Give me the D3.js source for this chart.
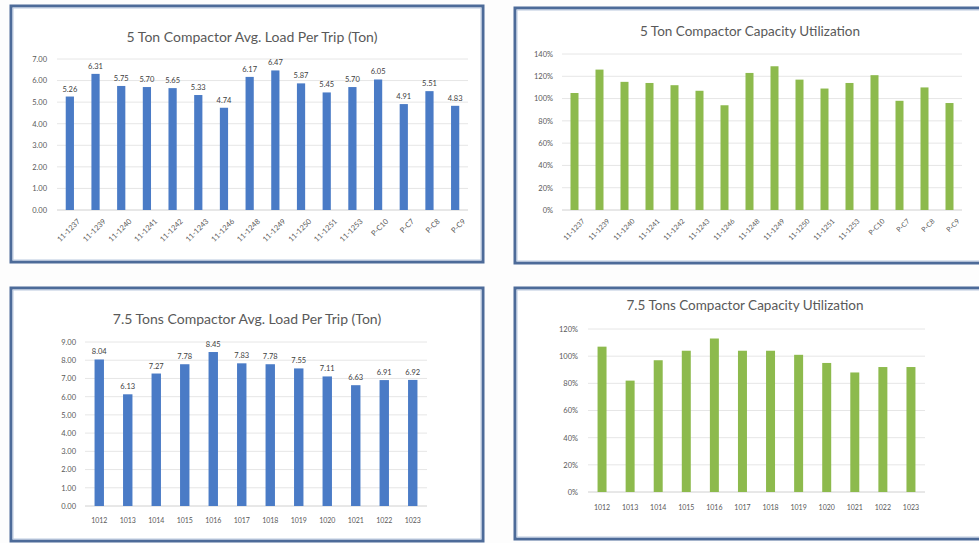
<!DOCTYPE html>
<html>
<head>
<meta charset="utf-8">
<script src="https://cdn.jsdelivr.net/npm/d3@7"></script>
<style>
html,body{margin:0;padding:0;background:#fdfdfd;overflow:hidden;}
svg{display:block;font-family:Lato,"Open Sans",sans-serif;}
</style>
</head>
<body>
<svg id="c" width="979" height="543"></svg>
<script>
const units5 = ["11-1237","11-1239","11-1240","11-1241","11-1242","11-1243","11-1246","11-1248","11-1249","11-1250","11-1251","11-1253","P-C10","P-C7","P-C8","P-C9"];
const load5 = [5.26,6.31,5.75,5.70,5.65,5.33,4.74,6.17,6.47,5.87,5.45,5.70,6.05,4.91,5.51,4.83];
const util5 = [1.05,1.26,1.15,1.14,1.12,1.07,0.94,1.23,1.29,1.17,1.09,1.14,1.21,0.98,1.10,0.96];
const units75 = ["1012","1013","1014","1015","1016","1017","1018","1019","1020","1021","1022","1023"];
const load75 = [8.04,6.13,7.27,7.78,8.45,7.83,7.78,7.55,7.11,6.63,6.91,6.92];
const util75 = [1.07,0.82,0.97,1.04,1.13,1.04,1.04,1.01,0.95,0.88,0.92,0.92];
const ticks5Load = [0,1,2,3,4,5,6,7];
const ticks5Util = [0,0.2,0.4,0.6,0.8,1.0,1.2,1.4];
const ticks75Load = [0,1,2,3,4,5,6,7,8,9];
const ticks75Util = [0,0.2,0.4,0.6,0.8,1.0,1.2];

const svg = d3.select("#c");
const BLUE = "#4a7bc6", GREEN = "#8dba4d", TXT = "#595959";

function panel(o){
  svg.append("rect").attr("x",o.box[0]).attr("y",o.box[1])
    .attr("width",o.box[2]-o.box[0]).attr("height",o.box[3]-o.box[1])
    .attr("fill","#ffffff").attr("stroke","#4d6b99").attr("stroke-width",3);
  svg.append("rect").attr("x",o.box[0]+2).attr("y",o.box[1]+2)
    .attr("width",o.box[2]-o.box[0]-4).attr("height",o.box[3]-o.box[1]-4)
    .attr("fill","none").attr("stroke","#b9c8de").attr("stroke-width",1);
  svg.append("text").attr("x",o.titleX).attr("y",o.titleY)
    .attr("text-anchor","middle").attr("font-size",o.titleSize||13.5)
    .attr("fill",TXT).text(o.title);
  const x = d3.scaleBand().domain(o.cats).range([o.x0,o.x1]).paddingInner(o.pad).paddingOuter(o.pad/2);
  const y = d3.scaleLinear().domain([0,o.ticks[o.ticks.length-1]]).range([o.y0,o.y1]);
  const g = svg.append("g");
  g.selectAll("line.grid").data(o.ticks).join("line")
    .attr("x1",o.x0).attr("x2",o.x1)
    .attr("y1",d=>y(d)).attr("y2",d=>y(d))
    .attr("stroke",d=>d===0?"#d0d0d0":"#e6e6e6").attr("stroke-width",1);
  const ya = d3.axisLeft(y).tickValues(o.ticks).tickFormat(o.fmt).tickSize(0).tickPadding(o.yPad);
  const yg = g.append("g").attr("transform",`translate(${o.x0},0)`).call(ya);
  yg.select(".domain").remove();
  yg.selectAll("text").attr("font-size",7.5).attr("fill",TXT).attr("font-family","Lato,'Open Sans',sans-serif");
  g.selectAll("rect.bar").data(o.vals).join("rect")
    .attr("x",(d,i)=>x(o.cats[i])).attr("width",x.bandwidth())
    .attr("y",d=>y(d)).attr("height",d=>y(0)-y(d)).attr("fill",o.color);
  if(o.labels){
    g.selectAll("text.dl").data(o.vals).join("text")
      .attr("x",(d,i)=>x(o.cats[i])+x.bandwidth()/2).attr("y",d=>y(d)-5)
      .attr("text-anchor","middle").attr("font-size",7.5).attr("fill","#404040")
      .text(d=>d3.format(".2f")(d));
  }
  const xa = d3.axisBottom(x).tickSize(0).tickPadding(o.xPad);
  const xg = g.append("g").attr("transform",`translate(0,${o.y0})`).call(xa);
  xg.select(".domain").remove();
  const xt = xg.selectAll("text").attr("font-size",o.xSize||7).attr("fill",TXT).attr("font-family","Lato,'Open Sans',sans-serif");
  if(o.rotate){
    xt.attr("text-anchor","end").attr("dy","0.3em").attr("dx","0")
      .attr("transform","translate(5,6) rotate(-45)");
  }
}

panel({box:[11,6,483,262],title:"5 Ton Compactor Avg. Load Per Trip (Ton)",titleX:252,titleY:42,titleSize:14,
  cats:units5,vals:load5,ticks:ticks5Load,fmt:d3.format(".2f"),x0:57,x1:468,y0:210,y1:59,
  pad:0.68,color:BLUE,labels:true,rotate:true,yPad:10,xPad:6,xSize:7.5});
panel({box:[515,8,990,263],title:"5 Ton Compactor Capacity Utilization",titleX:750,titleY:36,titleSize:13.5,
  cats:units5,vals:util5,ticks:ticks5Util,fmt:d3.format(".0%"),x0:562,x1:962,y0:210,y1:54,
  pad:0.68,color:GREEN,labels:false,rotate:true,yPad:9,xPad:6,xSize:7});
panel({box:[11,288,483,541],title:"7.5 Tons Compactor Avg. Load Per Trip (Ton)",titleX:247,titleY:324,titleSize:14,
  cats:units75,vals:load75,ticks:ticks75Load,fmt:d3.format(".2f"),x0:85,x1:427,y0:506,y1:342,
  pad:0.67,color:BLUE,labels:true,rotate:false,yPad:9,xPad:12,xSize:7});
panel({box:[515,288,990,539],title:"7.5 Tons Compactor Capacity Utilization",titleX:745,titleY:310,titleSize:13.5,
  cats:units75,vals:util75,ticks:ticks75Util,fmt:d3.format(".0%"),x0:588,x1:925,y0:492,y1:329,
  pad:0.68,color:GREEN,labels:false,rotate:false,yPad:10,xPad:13,xSize:7});
</script>
</body>
</html>
